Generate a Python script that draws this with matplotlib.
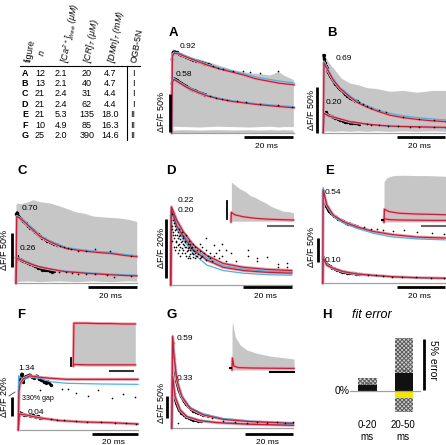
import matplotlib
matplotlib.use("Agg")
import matplotlib.pyplot as plt
from matplotlib.lines import Line2D

plt.rcParams['font.family'] = ['Liberation Sans', 'DejaVu Sans']
plt.rcParams['mathtext.fontset'] = 'custom'
plt.rcParams['mathtext.rm'] = 'Liberation Sans:italic'
plt.rcParams['mathtext.it'] = 'Liberation Sans:italic'
plt.rcParams['hatch.linewidth'] = 0.7

W, H = 446, 445
RED = '#c21f3a'
PINK = '#eba4ae'
BLUE = '#47b3e2'
GREY = '#c6c6c6'
BASE = '#a0a0a0'

# ---- table ----
tab_rows = ['A', 'B', 'C', 'D', 'E', 'F', 'G']
tab_n = ['12', '13', '21', '21', '21', '10', '25']
tab_ca = ['2.1', '2.1', '2.4', '2.4', '5.3', '4.9', '2.0']
tab_cr = ['20', '40', '31', '62', '135', '85', '390']
tab_dmn = ['4.7', '4.7', '4.4', '4.4', '18.0', '16.3', '14.6']
tab_ogb = ['I', 'I', 'I', 'I', 'II', 'II', 'II']

# ---- panel A (t in ms, y in dF/F) ----
a_fit_t = [0, 0.3, 1, 3, 6, 10, 15, 20, 25, 30, 35, 40, 45, 51]
a_up_red = [0, 1.02, 1.06, 1.05, 1.01, 0.96, 0.90, 0.85, 0.81, 0.77, 0.72, 0.69, 0.66, 0.64]
a_up_blue = [0, 1.03, 1.07, 1.06, 1.02, 0.97, 0.91, 0.865, 0.825, 0.785, 0.745, 0.715, 0.69, 0.665]
a_lo_red = [0, 0.68, 0.71, 0.67, 0.61, 0.55, 0.49, 0.45, 0.42, 0.40, 0.38, 0.365, 0.35, 0.335]
a_lo_blue = [0, 0.69, 0.72, 0.68, 0.62, 0.56, 0.50, 0.46, 0.43, 0.41, 0.39, 0.377, 0.362, 0.348]
a_up_raw_t = [0.2, 0.6, 1.2, 2, 3, 4, 5, 6, 7, 8, 9, 10, 11, 12, 13, 14, 15, 16]
a_up_raw = [0.98, 1.07, 1.08, 1.07, 1.05, 1.04, 1.02, 1.01, 0.99, 0.98, 0.97, 0.96, 0.95, 0.94, 0.93, 0.92, 0.91, 0.90]
a_up_dot_t = [17.4, 19.4, 21.5, 25.7, 29.9, 32.6, 36.8, 44.4]
a_up_dot = [0.885, 0.86, 0.85, 0.83, 0.82, 0.81, 0.80, 0.82]
a_lo_raw_t = [0.2, 0.6, 1.2, 2, 3, 4, 5, 6, 7, 8, 9, 10, 11, 12, 13, 14]
a_lo_raw = [0.66, 0.72, 0.72, 0.70, 0.68, 0.66, 0.64, 0.62, 0.60, 0.58, 0.57, 0.56, 0.54, 0.53, 0.52, 0.51]
a_lo_dot_t = [16, 18.5, 21, 23, 27, 31, 36.8, 44.4, 50]
a_lo_dot = [0.49, 0.47, 0.45, 0.44, 0.42, 0.41, 0.39, 0.37, 0.345]
a_env_t = [0, 0.5, 4.9, 11.8, 18.8, 25.7, 32.6, 36.8, 41, 44.4, 46.5, 50.7]
a_env_hi = [1.1, 1.12, 1.04, 0.98, 0.91, 0.84, 0.80, 0.79, 0.77, 0.82, 0.77, 0.71]
a_env_lo = [0.08, 0.09, 0.085, 0.08, 0.09, 0.085, 0.08, 0.085, 0.09, 0.08, 0.085, 0.085]
a_floor = [0.045, 0.04, 0.045, 0.04, 0.045, 0.04, 0.045, 0.04, 0.045, 0.04, 0.045, 0.04]

# ---- panel B ----
b_fit_t = [0, 0.3, 1, 2.5, 4.2, 7, 11.1, 14, 18, 23, 27.8, 33, 38.9, 45, 51]
b_up_red = [0, 0.76, 0.72, 0.65, 0.57, 0.48, 0.39, 0.33, 0.28, 0.23, 0.19, 0.165, 0.145, 0.13, 0.12]
b_up_blue = [0, 0.78, 0.74, 0.66, 0.58, 0.49, 0.40, 0.345, 0.295, 0.245, 0.21, 0.185, 0.165, 0.15, 0.138]
b_lo_red = [0, 0.21, 0.20, 0.18, 0.17, 0.15, 0.12, 0.11, 0.094, 0.082, 0.072, 0.068, 0.065, 0.061, 0.058]
b_lo_blue = [0, 0.21, 0.20, 0.18, 0.168, 0.148, 0.12, 0.108, 0.092, 0.079, 0.069, 0.064, 0.06, 0.056, 0.053]
b_up_raw_t = [0.2, 0.4, 0.7, 1, 1.5, 2, 3, 4, 5, 6, 7, 8, 9, 10, 11, 12, 13, 14]
b_up_raw = [0.84, 0.80, 0.76, 0.73, 0.70, 0.66, 0.61, 0.57, 0.53, 0.50, 0.47, 0.45, 0.42, 0.40, 0.38, 0.37, 0.35, 0.34]
b_up_dot_t = [15, 16.5, 18, 20, 23, 26, 33, 40, 46, 51]
b_up_dot = [0.33, 0.31, 0.29, 0.27, 0.245, 0.22, 0.17, 0.145, 0.135, 0.12]
b_lo_raw_t = [0.2, 0.5, 1, 2, 3, 4, 5, 6, 7, 8, 9, 10, 11, 12, 13, 14, 15]
b_lo_raw = [0.22, 0.20, 0.22, 0.19, 0.18, 0.17, 0.16, 0.15, 0.14, 0.13, 0.12, 0.12, 0.11, 0.11, 0.10, 0.10, 0.09]
b_lo_dot_t = [18, 20, 23, 27, 31, 36, 40, 46, 51]
b_lo_dot = [0.09, 0.085, 0.08, 0.075, 0.07, 0.065, 0.065, 0.06, 0.055]
b_env_t = [0, 2.1, 4.2, 7.6, 11.1, 14.6, 18, 22, 27.8, 33, 38.9, 45.8, 51]
b_env_hi = [0.86, 0.77, 0.70, 0.59, 0.54, 0.52, 0.49, 0.48, 0.45, 0.46, 0.44, 0.46, 0.46]
b_env_lo = [0.015, 0.02, 0.015, 0.02, 0.015, 0.02, 0.015, 0.02, 0.015, 0.02, 0.015, 0.02, 0.015]

# ---- panel C ----
c_fit_t = [0, 0.3, 1, 3, 7.2, 10, 14.2, 18, 21.1, 25, 29.4, 35, 39.2, 45, 50.3]
c_up_red = [0, 0.98, 0.97, 0.92, 0.78, 0.69, 0.61, 0.55, 0.51, 0.49, 0.47, 0.45, 0.44, 0.41, 0.39]
c_up_blue = [0, 0.99, 0.98, 0.93, 0.79, 0.70, 0.62, 0.565, 0.525, 0.505, 0.485, 0.465, 0.455, 0.425, 0.405]
c_lo_red = [0, 0.37, 0.36, 0.33, 0.27, 0.24, 0.21, 0.185, 0.17, 0.16, 0.147, 0.135, 0.125, 0.115, 0.108]
c_lo_blue = [0, 0.375, 0.365, 0.335, 0.275, 0.245, 0.215, 0.19, 0.177, 0.168, 0.156, 0.145, 0.135, 0.126, 0.12]
c_up_raw_t = [0.2, 0.5, 1, 2, 3, 4, 5, 6, 7, 8, 9, 10, 11, 12, 13, 14, 15, 16, 17]
c_up_raw = [1.02, 1.04, 0.99, 0.95, 0.92, 0.88, 0.85, 0.82, 0.79, 0.76, 0.72, 0.69, 0.67, 0.65, 0.62, 0.61, 0.60, 0.58, 0.57]
c_up_dot_t = [18.5, 20, 21.5, 23, 26, 29, 33, 39.2, 48]
c_up_dot = [0.55, 0.53, 0.52, 0.50, 0.48, 0.47, 0.50, 0.47, 0.40]
c_lo_raw_t = [0.2, 0.5, 1, 2, 3, 4, 5, 6, 7, 8, 9, 10, 11, 12, 13, 14, 15, 16]
c_lo_raw = [0.38, 0.40, 0.36, 0.35, 0.33, 0.31, 0.30, 0.28, 0.27, 0.25, 0.23, 0.22, 0.20, 0.19, 0.20, 0.18, 0.17, 0.18]
c_lo_dot_t = [18, 21, 23.5, 26, 29, 33, 38, 41, 48]
c_lo_dot = [0.17, 0.16, 0.15, 0.14, 0.14, 0.13, 0.12, 0.10, 0.11]
c_env_t = [0, 0.5, 2, 5, 7.2, 10, 14.2, 18, 21.1, 25, 28.5, 32, 35, 39.2, 43, 47, 50.3]
c_env_hi = [1.15, 1.18, 1.17, 1.20, 1.23, 1.20, 1.18, 1.14, 1.10, 1.05, 1.03, 0.99, 0.98, 0.97, 0.96, 0.94, 0.91]
c_env_lo = [0.03, 0.025, 0.03, 0.035, 0.03, 0.025, 0.03, 0.035, 0.03, 0.025, 0.03, 0.035, 0.03, 0.025, 0.03, 0.035, 0.03]

# ---- panel D ----
d_fit_t = [0, 0.3, 2.5, 5.3, 9.4, 15, 21.9, 30.3, 40, 50.4]
d_red1 = [0, 0.265, 0.22, 0.18, 0.136, 0.10, 0.073, 0.06, 0.053, 0.049]
d_red2 = [0, 0.255, 0.20, 0.164, 0.119, 0.085, 0.06, 0.049, 0.043, 0.04]
d_blue1 = [0, 0.26, 0.21, 0.171, 0.127, 0.092, 0.066, 0.054, 0.047, 0.044]
d_blue2 = [0, 0.25, 0.19, 0.153, 0.107, 0.068, 0.049, 0.04, 0.035, 0.033]
d_dot_t = [0.4, 0.4, 0.4, 0.9, 0.9, 1.3, 1.3, 1.3, 1.9, 1.9, 1.9, 2.4, 2.4, 2.4,
           2.9, 2.9, 2.9, 3.5, 3.5, 3.5, 4.0, 4.0, 4.0, 4.6, 4.6, 4.6, 5.2, 5.2, 5.2,
           5.8, 5.8, 5.8, 6.4, 6.4, 6.4, 7.0, 7.0, 7.0, 7.6, 7.6, 7.6, 8.2, 8.2, 8.2,
           8.8, 8.8, 9.4, 9.4, 9.4, 10.2, 10.2, 10.2, 11.0, 11.0, 12.0, 12.0, 12.0,
           13.2, 13.2, 14.8, 14.8, 14.8, 16.3, 16.3, 18.0, 18.0, 20.0, 20.0, 21.5, 21.5,
           23.0, 23.0, 25.0, 27.0, 32.0, 32.0, 36.0, 36.0, 40.0, 44.5, 44.5, 48.5, 48.5,
           0.7, 1.1, 1.6, 2.1, 2.6, 3.1, 3.3, 3.8, 4.3, 4.8, 5.0, 5.5, 6.1, 6.7, 7.3,
           7.9, 8.5, 9.1, 9.7, 10.6, 11.4, 12.6, 13.8, 15.5, 17.1, 19.0]
d_dot = [0.24, 0.20, 0.15, 0.22, 0.17, 0.21, 0.16, 0.13, 0.20, 0.17, 0.12, 0.19, 0.15, 0.13,
         0.18, 0.16, 0.11, 0.19, 0.14, 0.12, 0.17, 0.13, 0.10, 0.18, 0.15, 0.11, 0.16, 0.12, 0.14,
         0.15, 0.11, 0.13, 0.17, 0.13, 0.10, 0.14, 0.12, 0.09, 0.13, 0.15, 0.10, 0.12, 0.14, 0.09,
         0.13, 0.11, 0.12, 0.095, 0.14, 0.11, 0.13, 0.09, 0.10, 0.12, 0.115, 0.09, 0.14,
         0.10, 0.13, 0.085, 0.12, 0.16, 0.11, 0.09, 0.135, 0.10, 0.12, 0.09, 0.10, 0.14,
         0.12, 0.08, 0.11, 0.08, 0.12, 0.10, 0.09, 0.08, 0.095, 0.07, 0.06, 0.075, 0.06,
         0.19, 0.18, 0.185, 0.145, 0.17, 0.135, 0.165, 0.155, 0.145, 0.125, 0.165, 0.135,
         0.145, 0.115, 0.125, 0.105, 0.125, 0.105, 0.115, 0.10, 0.105, 0.095, 0.11, 0.10, 0.08, 0.11]
# inset D
di_env_t = [0.3, 3, 7.5, 11, 15.5, 19, 23.5, 27, 31.5, 36, 42, 46, 50]
di_env_hi = [1.0, 0.93, 0.82, 0.77, 0.66, 0.62, 0.54, 0.49, 0.40, 0.34, 0.27, 0.26, 0.23]
di_env_lo = [0.02, 0.02, 0.02, 0.02, 0.02, 0.02, 0.02, 0.02, 0.02, 0.02, 0.02, 0.02, 0.02]
di_red_t = [0, 0.3, 3, 10, 20, 30, 40, 50]
di_red = [0, 0.24, 0.18, 0.13, 0.09, 0.07, 0.06, 0.05]

# ---- panel E ----
e_fit_t = [0, 0.2, 1.7, 4.4, 8.6, 14.2, 21.1, 29.4, 39.2, 51]
e_up_red = [0, 2.0, 1.68, 1.46, 1.32, 1.21, 1.11, 1.04, 0.99, 0.97]
e_up_blue = [0, 2.05, 1.66, 1.43, 1.29, 1.18, 1.07, 0.99, 0.95, 0.93]
e_lo_red = [0, 0.54, 0.39, 0.32, 0.25, 0.20, 0.17, 0.14, 0.12, 0.107]
e_lo_blue = [0, 0.55, 0.39, 0.32, 0.25, 0.20, 0.168, 0.138, 0.118, 0.105]
e_up_raw_t = [0.3, 0.8, 1.5, 2.5, 3.5, 4.5, 5.5, 6.5, 7.5, 8.5, 9.5, 10.5, 11.5, 12.5, 13.5, 14.5]
e_up_raw = [1.9, 1.75, 1.65, 1.55, 1.5, 1.45, 1.42, 1.38, 1.35, 1.33, 1.30, 1.28, 1.27, 1.24, 1.23, 1.21]
e_up_dot_t = [17, 20, 22.5, 25, 29.4, 34, 39.2, 45.4, 50.4]
e_up_dot = [1.20, 1.17, 1.16, 1.14, 1.12, 1.14, 1.10, 1.07, 1.06]
e_lo_raw_t = [0.3, 1, 2, 3, 4, 5, 6, 7, 8, 9, 10, 11, 12, 13, 14, 15, 16]
e_lo_raw = [0.55, 0.45, 0.40, 0.36, 0.33, 0.31, 0.29, 0.27, 0.25, 0.24, 0.23, 0.22, 0.21, 0.21, 0.20, 0.19, 0.19]
e_lo_dot_t = [19, 22, 25, 29, 33, 39, 45, 50.5]
e_lo_dot = [0.17, 0.17, 0.15, 0.14, 0.14, 0.13, 0.11, 0.11]
# inset E
ei_env_t = [0, 0.3, 2, 5, 8, 15, 25, 35, 45, 50]
ei_env_hi = [0.98, 1.02, 1.10, 1.14, 1.16, 1.17, 1.16, 1.16, 1.15, 1.14]
ei_red_t = [0, 0.4, 4, 12, 25, 40, 50]
ei_up_red = [0, 0.32, 0.26, 0.22, 0.20, 0.19, 0.18]
ei_lo_red = [0, 0.08, 0.06, 0.05, 0.045, 0.04, 0.04]

# ---- panel F ----
f_up_red_t = [0, 0.3, 0.7, 2.2, 5.1, 9.4, 13.8, 21, 35.5, 52]
f_up_red = [0, 0.40, 0.48, 0.53, 0.56, 0.545, 0.535, 0.524, 0.524, 0.524]
f_up_blue_t = [0, 0.1, 1, 2.2, 5.1, 9.4, 13.8, 21, 35.5, 52]
f_up_blue = [0, 0.56, 0.545, 0.524, 0.545, 0.535, 0.50, 0.483, 0.476, 0.472]
f_up_raw_t = [0.5, 1, 1.5, 2, 3, 4, 5, 6, 7, 8, 9, 10, 11, 12, 13, 14]
f_up_raw = [0.45, 0.52, 0.58, 0.50, 0.55, 0.56, 0.57, 0.55, 0.54, 0.56, 0.53, 0.52, 0.50, 0.49, 0.50, 0.47]
f_up_dot_t = [9.4, 18.8, 21.7, 25.3, 30.4, 34.8, 40.6, 45.7, 50.7]
f_up_dot = [0.41, 0.424, 0.42, 0.38, 0.35, 0.41, 0.334, 0.37, 0.345]
f_lo_red_t = [0, 0.5, 3.6, 6.5, 10.9, 18.1, 28.3, 39.9, 52]
f_lo_red = [0, 0.165, 0.155, 0.138, 0.12, 0.097, 0.083, 0.076, 0.062]
f_lo_raw_t = [0.3, 0.8, 1.5, 2.5, 3.5, 4.5, 5.5, 6.5, 7.5, 8.5, 9.5, 10.5]
f_lo_raw = [0.16, 0.18, 0.17, 0.16, 0.15, 0.15, 0.14, 0.15, 0.13, 0.14, 0.12, 0.12]
f_lo_dot_t = [14, 17, 20, 25, 30, 36, 42, 47, 51]
f_lo_dot = [0.11, 0.10, 0.10, 0.09, 0.08, 0.08, 0.075, 0.07, 0.06]
# inset F
fi_t = [0, 0.5, 10, 20, 30, 40, 50]
fi_env_hi = [1.0, 1.07, 1.07, 1.06, 1.06, 1.05, 1.05]
fi_up_red = [0, 1.07, 1.07, 1.06, 1.06, 1.05, 1.05]
fi_lo_red = [0, 0.04, 0.03, 0.03, 0.03, 0.03, 0.03]

# ---- panel G ----
g_up_t = [0, 0.4, 1, 2.1, 4.2, 7.6, 13.2, 21.5, 32.6, 50.7]
g_up_red = [0, 2.05, 1.6, 1.08, 0.71, 0.45, 0.30, 0.20, 0.15, 0.11]
g_up_blue = [0, 2.08, 1.62, 1.10, 0.73, 0.47, 0.32, 0.22, 0.16, 0.12]
g_lo_t = [0, 0.4, 1.4, 3.5, 6.3, 11.8, 18.75, 32.6, 50.7]
g_lo_red = [0, 1.16, 0.71, 0.41, 0.26, 0.17, 0.127, 0.09, 0.067]
g_lo_blue = [0, 1.17, 0.72, 0.42, 0.27, 0.18, 0.135, 0.097, 0.073]
g_up_raw_t = [0.5, 1, 1.5, 2, 3, 4, 5, 6, 7, 8, 9, 10, 11, 12, 13, 14, 15]
g_up_raw = [1.9, 1.55, 1.25, 1.05, 0.85, 0.72, 0.62, 0.54, 0.48, 0.43, 0.39, 0.36, 0.34, 0.32, 0.30, 0.29, 0.28]
g_lo_raw_t = [0.5, 1, 1.5, 2, 3, 4, 5, 6, 7, 8, 9, 10, 11, 12]
g_lo_raw = [1.05, 0.78, 0.65, 0.55, 0.42, 0.35, 0.30, 0.26, 0.23, 0.21, 0.19, 0.18, 0.17, 0.16]
g_dot_t = [2.8, 16.7, 21.5, 26.4, 31.25, 35.4, 39.6, 43.75, 47.2, 50.7]
g_dot = [0.11, 0.22, 0.17, 0.15, 0.11, 0.13, 0.11, 0.13, 0.11, 0.13]
# inset G
gi_env_t = [0, 0.3, 2.6, 6.6, 12, 20, 30.5, 41, 50]
gi_env_hi = [1.0, 1.21, 0.83, 0.625, 0.5, 0.42, 0.35, 0.31, 0.275]
gi_red_t = [0, 0.4, 1.5, 5, 15, 30, 50]
gi_red = [0, 0.30, 0.10, 0.06, 0.05, 0.045, 0.04]

# ---- panel H: fit error (%) ----
h_labels = ['0-20\nms', '20-50\nms']
h_mean = [0.55, 1.75]
h_range_hi = [1.25, 5.2]
h_range_lo = [0.0, -2.1]
h_neg = [0.0, -0.7]
h_mark = [0.75, 2.0]

fig = plt.figure(figsize=(W / 100, H / 100), dpi=100)


def ftext(x, y, s, **kw):
    fig.text(x / W, 1 - y / H, s, **kw)


def fline(xs, ys, **kw):
    fig.add_artist(Line2D([x / W for x in xs], [1 - y / H for y in ys], **kw))


def panel(box, t0, base, ppm, ppu):
    # box and origin in pixels of the figure
    l, t, r, b = box
    ax = fig.add_axes([l / W, 1 - b / H, (r - l) / W, (b - t) / H])
    ax.set_xlim((l - t0) / ppm, (r - t0) / ppm)
    ax.set_ylim((base - b) / ppu, (base - t) / ppu)
    ax.axis('off')
    return ax


def fit(ax, t, y, color, lw=0.9):
    if color == RED:
        ax.plot(t, y, color=PINK, lw=2.2, zorder=3, solid_capstyle='round')
    ax.plot(t, y, color=color, lw=lw, zorder=4)


def raw(ax, t, y):
    ax.plot(t, y, color='black', lw=2.0, marker='o', ms=1.4, zorder=2)


def dots(ax, t, y):
    ax.plot(t, y, 'o', color='black', ms=1.2, mew=0, zorder=5)


def baseline(ax, t_end):
    ax.plot([0, t_end], [0, 0], color=BASE, lw=0.9, zorder=1)


def scalebars(hx, hy, vx, vy, vlab, lab_x, lab_y):
    fline(hx, hy, color='black', lw=2.0, solid_capstyle='butt')
    fline(vx, vy, color='black', lw=2.0, solid_capstyle='butt')
    ftext((hx[0] + hx[1]) / 2 - 2, hy[0] + 9, '20 ms', fontsize=6, ha='center', va='center')
    ftext(lab_x, lab_y, vlab, fontsize=6.5, rotation=90, ha='center', va='center')


def letter(x, y, s):
    ftext(x, y, s, fontsize=9.5, fontweight='bold', ha='center', va='center')


def small(x, y, s):
    ftext(x, y, s, fontsize=6, ha='left', va='center')


# ---------------- table ----------------
hdr_x = [31, 44, 68, 90, 114, 137]
hdr_y = [63, 57, 63, 63, 63, 63]
headers = ['figure', '$n$', r'$[Ca^{2+}]_{free}$ ($\mu$M)', r'$[CR]_T$ ($\mu$M)',
           r'$[DMn]_T$ (mM)', 'OGB-5N']
for hx, hy, s in zip(hdr_x, hdr_y, headers):
    ftext(hx, hy, s, fontsize=6.5, rotation=80, rotation_mode='anchor',
          ha='left', va='baseline',
          fontstyle='normal' if s in ('figure', 'OGB-5N') else 'italic')
fline([20, 140], [66, 66], color='black', lw=0.8)
fline([127, 127], [66, 140], color='black', lw=0.8)
for i in range(len(tab_rows)):
    y = 73 + i * 10.4
    ftext(25, y, tab_rows[i], fontsize=6.5, fontweight='bold', ha='center', va='center')
    ftext(40, y, tab_n[i], fontsize=6.5, ha='center', va='center')
    ftext(61, y, tab_ca[i], fontsize=6.5, ha='center', va='center')
    ftext(87, y, tab_cr[i], fontsize=6.5, ha='center', va='center')
    ftext(110, y, tab_dmn[i], fontsize=6.5, ha='center', va='center')
    ftext(133, y, tab_ogb[i], fontsize=6.5, ha='center', va='center')

# ---------------- A ----------------
ax = panel((165, 40, 296, 136), 171.7, 133, 2.4, 75.3)
ax.fill_between(a_env_t, a_env_lo, a_env_hi, color=GREY, lw=0, zorder=0)
ax.fill_between(a_env_t, 0, a_floor, color=GREY, lw=0, zorder=0)
baseline(ax, a_fit_t[-1])
raw(ax, a_up_raw_t, a_up_raw)
raw(ax, a_lo_raw_t, a_lo_raw)
fit(ax, a_fit_t, a_up_blue, BLUE)
fit(ax, a_fit_t, a_up_red, RED)
fit(ax, a_fit_t, a_lo_blue, BLUE)
fit(ax, a_fit_t, a_lo_red, RED)
dots(ax, a_up_dot_t, a_up_dot)
dots(ax, a_lo_dot_t, a_lo_dot)
letter(173, 33, 'A')
small(180, 46, '0.92')
small(176, 74, '0.58')
scalebars([244, 293], [137, 137], [169.5, 169.5], [94, 132], 'ΔF/F 50%', 162, 112)

# ---------------- B ----------------
ax = panel((318, 40, 446, 136), 323.3, 132.7, 2.4, 92)
ax.fill_between(b_env_t, b_env_lo, b_env_hi, color=GREY, lw=0, zorder=0)
baseline(ax, b_fit_t[-1])
raw(ax, b_up_raw_t, b_up_raw)
raw(ax, b_lo_raw_t, b_lo_raw)
fit(ax, b_fit_t, b_up_blue, BLUE)
fit(ax, b_fit_t, b_up_red, RED)
fit(ax, b_fit_t, b_lo_blue, BLUE)
fit(ax, b_fit_t, b_lo_red, RED)
dots(ax, b_up_dot_t, b_up_dot)
dots(ax, b_lo_dot_t, b_lo_dot)
letter(332, 33, 'B')
small(336, 58, '0.69')
small(326, 103, '0.20')
scalebars([397, 445], [137, 137], [317.3, 317.3], [87, 133], 'ΔF/F 50%', 311, 110)

# ---------------- C ----------------
ax = panel((12, 180, 140, 286), 16, 283.3, 2.4, 68)
ax.fill_between(c_env_t, c_env_lo, c_env_hi, color=GREY, lw=0, zorder=0)
baseline(ax, c_fit_t[-1])
raw(ax, c_up_raw_t, c_up_raw)
raw(ax, c_lo_raw_t, c_lo_raw)
fit(ax, c_fit_t, c_up_blue, BLUE)
fit(ax, c_fit_t, c_up_red, RED)
fit(ax, c_fit_t, c_lo_blue, BLUE)
fit(ax, c_fit_t, c_lo_red, RED)
dots(ax, c_up_dot_t, c_up_dot)
dots(ax, c_lo_dot_t, c_lo_dot)
letter(22, 171, 'C')
small(22, 208, '0.70')
small(20, 249, '0.26')
scalebars([88, 137], [287, 287], [11.7, 11.7], [233, 267], 'ΔF/F 50%', 5, 250)

# ---------------- D ----------------
ax = panel((165, 180, 296, 288), 170.7, 285, 2.4, 295)
baseline(ax, d_fit_t[-1])
fit(ax, d_fit_t, d_blue2, BLUE)
fit(ax, d_fit_t, d_blue1, BLUE)
fit(ax, d_fit_t, d_red2, RED)
fit(ax, d_fit_t, d_red1, RED)
dots(ax, d_dot_t, d_dot)
letter(171, 171, 'D')
small(178, 200, '0.22')
small(178, 211, '0.20')
scalebars([243, 292], [287, 287], [166, 166], [219, 278], 'ΔF/F 20%', 162, 248)
ax = panel((228, 176, 296, 226), 231, 222, 1.25, 40)
ax.fill_between(di_env_t, di_env_lo, di_env_hi, color=GREY, lw=0, zorder=0)
fit(ax, di_red_t, di_red, RED)
fline([227, 227], [201, 219], color='black', lw=1.3)
fline([268, 293], [226, 226], color='#666666', lw=1.5)

# ---------------- E ----------------
ax = panel((318, 180, 446, 286), 322.7, 283.3, 2.4, 46.7)
baseline(ax, e_fit_t[-1])
raw(ax, e_up_raw_t, e_up_raw)
raw(ax, e_lo_raw_t, e_lo_raw)
fit(ax, e_fit_t, e_up_blue, BLUE)
fit(ax, e_fit_t, e_up_red, RED)
fit(ax, e_fit_t, e_lo_blue, BLUE)
fit(ax, e_fit_t, e_lo_red, RED)
dots(ax, e_up_dot_t, e_up_dot)
dots(ax, e_lo_dot_t, e_lo_dot)
letter(330, 171, 'E')
small(325, 193, '0.54')
small(325, 261, '0.10')
scalebars([397, 445], [287, 287], [318, 318], [238, 262], 'ΔF/F 50%', 312, 247)
ax = panel((380, 170, 446, 226), 384, 222, 1.24, 40)
ax.fill_between(ei_env_t, 0, ei_env_hi, color=GREY, lw=0, zorder=0)
fit(ax, ei_red_t, ei_up_red, RED)
fit(ax, ei_red_t, ei_lo_red, RED)
fline([422, 445], [226, 226], color='#666666', lw=1.5)
fline([381.5, 382.5], [220, 220], color='black', lw=1.5)

# ---------------- F ----------------
ax = panel((12, 355, 142, 432), 18.3, 430, 2.3, 96.7)
baseline(ax, f_lo_red_t[-1])
raw(ax, f_up_raw_t, f_up_raw)
raw(ax, f_lo_raw_t, f_lo_raw)
fit(ax, f_up_blue_t, f_up_blue, BLUE)
fit(ax, f_up_red_t, f_up_red, RED)
fit(ax, f_lo_red_t, f_lo_red, RED)
dots(ax, f_up_dot_t, f_up_dot)
dots(ax, f_lo_dot_t, f_lo_dot)
letter(21, 315, 'F')
small(18, 368, '1.34')
small(28, 413, '0.04')
ftext(22, 398, '330% gap', fontsize=5, ha='left', va='center')
scalebars([92, 138], [434, 434], [11.7, 11.7], [397, 416], 'ΔF/F 20%', 5, 397)
fline([9, 15], [398, 394], color='white', lw=1.2)
fline([9, 15], [396, 392], color='#444444', lw=0.6)
ax = panel((70, 318, 138, 370), 73.3, 366, 1.24, 40)
ax.fill_between(fi_t, 0, fi_env_hi, color=GREY, lw=0, zorder=0)
fit(ax, fi_t, fi_up_red, RED)
fit(ax, fi_t, fi_lo_red, RED)
fline([71, 71], [358, 366], color='black', lw=1.3)
fline([110, 133], [371, 371], color='#333333', lw=1.5)

# ---------------- G ----------------
ax = panel((165, 325, 296, 432), 171.7, 428.3, 2.4, 44.7)
baseline(ax, g_up_t[-1])
raw(ax, g_up_raw_t, g_up_raw)
raw(ax, g_lo_raw_t, g_lo_raw)
fit(ax, g_up_t, g_up_blue, BLUE)
fit(ax, g_up_t, g_up_red, RED)
fit(ax, g_lo_t, g_lo_blue, BLUE)
fit(ax, g_lo_t, g_lo_red, RED)
dots(ax, g_dot_t, g_dot)
letter(172, 315, 'G')
small(177, 338, '0.59')
small(177, 378, '0.33')
scalebars([245, 293], [434, 434], [166.7, 166.7], [396, 418], 'ΔF/F 50%', 162, 403)
ax = panel((228, 316, 296, 374), 232, 370, 1.24, 40)
ax.fill_between(gi_env_t, 0, gi_env_hi, color=GREY, lw=0, zorder=0)
fit(ax, gi_red_t, gi_red, RED)
fline([270, 294], [372, 372], color='black', lw=1.5)
fline([229.5, 230.5], [368, 368], color='black', lw=1.5)

# ---------------- H ----------------
ax = panel((340, 325, 422, 418), 367.5, 390.7, 36.5, 10.2)
xs = [0, 1]
ax.bar(xs, h_range_hi, width=0.52, color='#cfcfcf', edgecolor='#5a5a5a', hatch='xxxxxxxx', lw=0, zorder=1)
ax.bar(xs, h_range_lo, width=0.52, color='#cfcfcf', edgecolor='#5a5a5a', hatch='xxxxxxxx', lw=0, zorder=1)
ax.bar(xs, h_mean, width=0.52, color='#111111', lw=0, zorder=2)
ax.bar(xs, h_neg, width=0.52, color='#f5e800', lw=0, zorder=2)
for x, m in zip(xs, h_mark):
    ax.plot([x - 0.15, x + 0.15], [m, m], color='#555555', lw=1.0, ls=(0, (1, 1)), zorder=3)
fline([350, 420], [390.7, 390.7], color=BASE, lw=0.9)
letter(327, 315, 'H')
ftext(372, 315, 'fit error', fontsize=9, fontstyle='italic', ha='center', va='center')
ftext(350, 391, '0%', fontsize=7.5, ha='right', va='center')
fline([424, 424], [339, 390], color='black', lw=2.0, solid_capstyle='butt')
ftext(433, 360, '5% error', fontsize=7.5, rotation=270, ha='center', va='center')
for x, lab in zip([367, 403], h_labels):
    ftext(x, 431, lab, fontsize=7, ha='center', va='center', linespacing=1.2)

fig.savefig('out.png', dpi=100)
